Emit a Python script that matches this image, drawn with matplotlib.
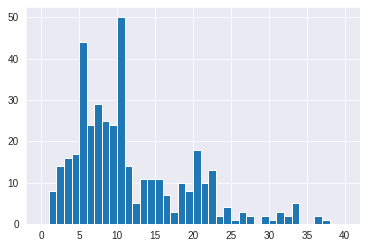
import numpy as np
import matplotlib
matplotlib.use("Agg")
import matplotlib.pyplot as plt
import seaborn as sns

# histogram counts, one bin per integer value 0..39
bin_left = list(range(0, 40))
counts = [0, 8, 14, 16, 17, 44, 24, 29, 25, 24,
          50, 14, 5, 11, 11, 11, 7, 3, 10, 8,
          18, 10, 13, 2, 4, 1, 3, 2, 0, 2,
          1, 3, 2, 5, 0, 0, 2, 1, 0, 0]
edges = np.arange(0, 41)

sns.set_style("darkgrid")
plt.rcParams['font.family'] = ['Liberation Sans', 'DejaVu Sans']

fig = plt.figure(figsize=(367 / 72, 247 / 72), dpi=72)
ax = fig.add_axes([0.0708, 0.093, 0.91, 0.879])

ax.hist(bin_left, bins=edges, weights=counts, color="#1f77b4",
        edgecolor="white", linewidth=1)
ax.set_xticks([0, 5, 10, 15, 20, 25, 30, 35, 40])
ax.set_yticks([0, 10, 20, 30, 40, 50])
ax.tick_params(labelsize=10, colors=".15")

fig.savefig("out.png", dpi=72)
